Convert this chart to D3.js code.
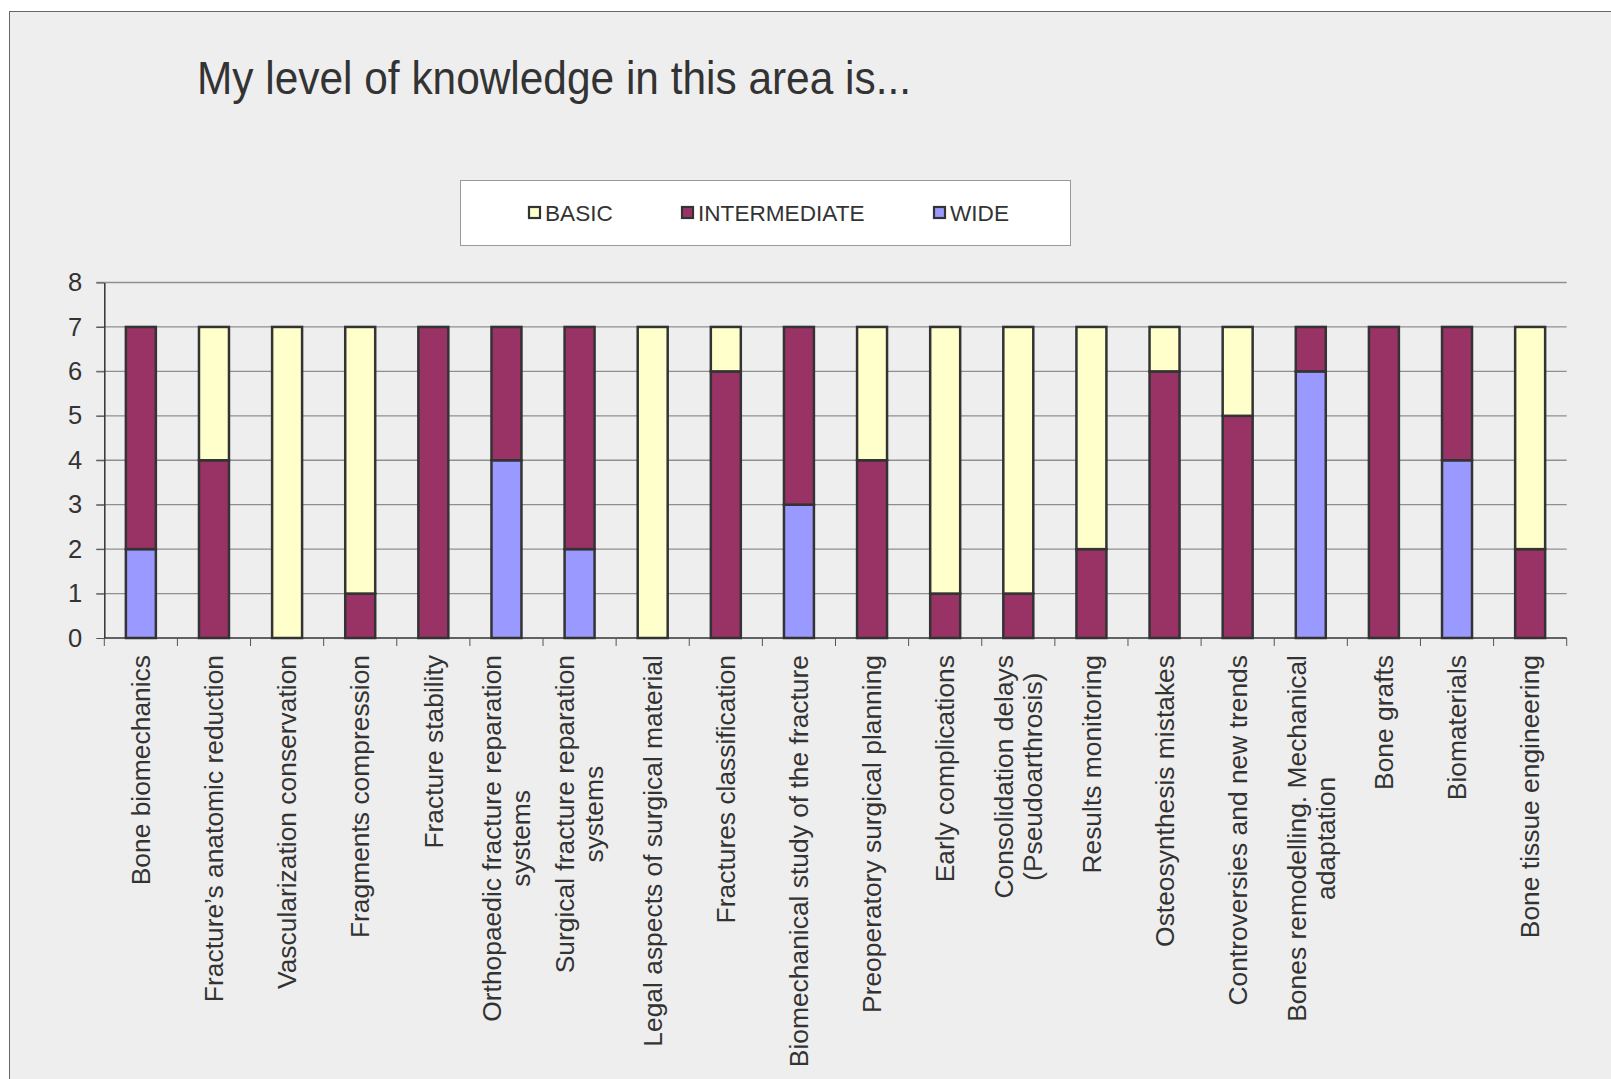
<!DOCTYPE html>
<html>
<head>
<meta charset="utf-8">
<script src="https://cdn.jsdelivr.net/npm/d3@7"></script>
<style>
  body { margin: 0; background: #fff; }
  text { font-family: 'Liberation Sans', Arial, sans-serif; fill: #333; }
</style>
</head>
<body>
<svg id="chart"></svg>
<script>
const categories = [
  'Bone biomechanics',
  'Fracture\u2019s anatomic reduction',
  'Vascularization conservation',
  'Fragments compression',
  'Fracture stability',
  'Orthopaedic fracture reparation\nsystems',
  'Surgical fracture reparation\nsystems',
  'Legal aspects of surgical material',
  'Fractures classification',
  'Biomechanical study of the fracture',
  'Preoperatory surgical planning',
  'Early complications',
  'Consolidation delays\n(Pseudoarthrosis)',
  'Results monitoring',
  'Osteosynthesis mistakes',
  'Controversies and new trends',
  'Bones remodelling. Mechanical\nadaptation',
  'Bone grafts',
  'Biomaterials',
  'Bone tissue engineering'
]

const wide = [2, 0, 0, 0, 0, 4, 2, 0, 0, 3, 0, 0, 0, 0, 0, 0, 6, 0, 4, 0]
const intermediate = [5, 4, 0, 1, 7, 3, 5, 0, 6, 4, 4, 1, 1, 2, 6, 5, 1, 7, 3, 2]
const basic = [0, 3, 7, 6, 0, 0, 0, 7, 1, 0, 3, 6, 6, 5, 1, 2, 0, 0, 0, 5]

const seriesNames = ['BASIC', 'INTERMEDIATE', 'WIDE']
const seriesColors = { BASIC: '#FFFFCC', INTERMEDIATE: '#993366', WIDE: '#9999FF' }
const yTicks = [0, 1, 2, 3, 4, 5, 6, 7, 8]

const W = 1611, H = 1079
const plot = { left: 104.3, right: 1566.7, top: 282.5, bottom: 638 }

const svg = d3.select('#chart')
  .attr('width', W)
  .attr('height', H)

// chart area background + border
svg.append('rect')
  .attr('x', 9.5).attr('y', 11.5)
  .attr('width', W).attr('height', H)
  .attr('fill', '#eeeeee')
  .attr('stroke', '#666')
  .attr('stroke-width', 1)

svg.append('text')
  .attr('x', 197).attr('y', 94)
  .attr('font-size', 46)
  .attr('textLength', 714)
  .attr('lengthAdjust', 'spacingAndGlyphs')
  .text('My level of knowledge in this area is...')

// legend
const legend = svg.append('g')
legend.append('rect')
  .attr('x', 460.5).attr('y', 180.5)
  .attr('width', 610).attr('height', 65)
  .attr('fill', '#fff')
  .attr('stroke', '#999')

const legendX = { BASIC: 529, INTERMEDIATE: 682, WIDE: 934 }
seriesNames.forEach(name => {
  legend.append('rect')
    .attr('x', legendX[name]).attr('y', 207)
    .attr('width', 11).attr('height', 11)
    .attr('fill', seriesColors[name])
    .attr('stroke', '#333')
    .attr('stroke-width', 2.2)
  legend.append('text')
    .attr('x', legendX[name] + 16).attr('y', 221)
    .attr('font-size', 22.6)
    .text(name)
})

const x = d3.scaleBand()
  .domain(categories)
  .range([plot.left, plot.right])
  .paddingInner(0.59)
  .paddingOuter(0.295)

const y = d3.scaleLinear()
  .domain([0, 8])
  .range([plot.bottom, plot.top])

// gridlines
svg.append('g')
  .selectAll('line')
  .data(yTicks.filter(d => d > 0))
  .join('line')
  .attr('x1', plot.left - 8).attr('x2', plot.right)
  .attr('y1', d => y(d)).attr('y2', d => y(d))
  .attr('stroke', '#8f8f8f')
  .attr('stroke-width', 1.3)

// y axis
const yAxis = svg.append('g')
  .attr('transform', `translate(${plot.left}, 0)`)
  .call(d3.axisLeft(y).tickValues(yTicks).tickSize(8).tickPadding(14).tickSizeOuter(0))
yAxis.select('.domain').attr('stroke', '#333').attr('stroke-width', 1.5)
yAxis.selectAll('.tick line').attr('stroke', '#555')
yAxis.selectAll('.tick text')
  .attr('font-size', 25.5)
  .attr('font-family', "'Liberation Sans', Arial, sans-serif")
  .attr('fill', '#333')

// stacked bars
const rows = categories.map((c, i) => ({
  category: c,
  WIDE: wide[i],
  INTERMEDIATE: intermediate[i],
  BASIC: basic[i]
}))
const stack = d3.stack().keys(['WIDE', 'INTERMEDIATE', 'BASIC'])(rows)

svg.append('g')
  .selectAll('g')
  .data(stack)
  .join('g')
  .attr('fill', s => seriesColors[s.key])
  .selectAll('rect')
  .data(s => s.filter(d => d[1] > d[0]))
  .join('rect')
  .attr('x', d => x(d.data.category))
  .attr('width', x.bandwidth())
  .attr('y', d => y(d[1]))
  .attr('height', d => y(d[0]) - y(d[1]))
  .attr('stroke', '#333')
  .attr('stroke-width', 2.5)

// x axis line and tick marks at band boundaries
svg.append('line')
  .attr('x1', plot.left).attr('x2', plot.right)
  .attr('y1', plot.bottom).attr('y2', plot.bottom)
  .attr('stroke', '#333').attr('stroke-width', 1.5)

svg.append('g')
  .selectAll('line')
  .data(d3.range(categories.length + 1))
  .join('line')
  .attr('x1', i => plot.left + i * x.step())
  .attr('x2', i => plot.left + i * x.step())
  .attr('y1', plot.bottom).attr('y2', plot.bottom + 8)
  .attr('stroke', '#555')

// rotated category labels
const labelSize = 26.4
const labels = svg.append('g')
categories.forEach(c => {
  const lines = c.split('\n')
  const cx = x(c) + x.bandwidth() / 2
  const t = labels.append('text')
    .attr('transform', `translate(${cx}, 655) rotate(-90)`)
    .attr('font-size', labelSize)
    .attr('text-anchor', 'middle')
  const spans = lines.map((l, k) => t.append('tspan')
    .attr('y', (k - (lines.length - 1) / 2) * 1.1 * labelSize + 0.35 * labelSize)
    .text(l))
  const maxW = d3.max(spans, s => s.node().getComputedTextLength())
  spans.forEach(s => s.attr('x', -maxW / 2))
})
</script>
</body>
</html>
